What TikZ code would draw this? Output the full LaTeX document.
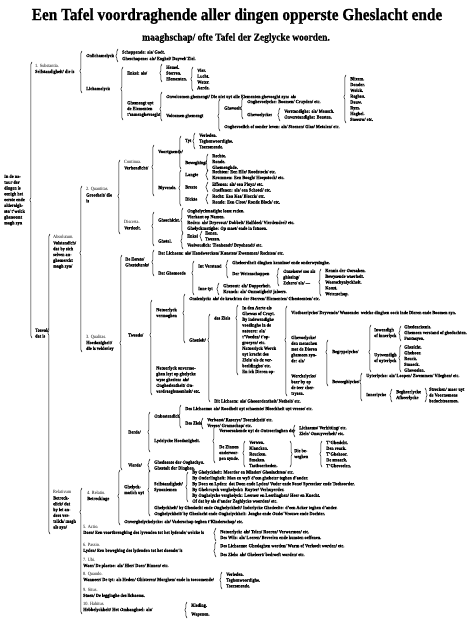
\documentclass[tikz,border=0pt]{standalone}
\usepackage{fontspec}
\setmainfont{Liberation Serif}[FakeStretch=0.9, BoldFeatures={FakeBold=0.8}]
\usetikzlibrary{decorations.pathreplacing}
\newcommand\bt{\fontsize{4.8}{5.8}\selectfont\bfseries}
\newcommand\lat{\mdseries}
\tikzset{
  txt/.style={anchor=west,inner sep=0pt,font=\bt,align=left},
  brc/.style={decorate,line width=0.5pt},
}
\newcommand\Nd[4]{\node[txt] (#1) at (#2,#3) {#4};}
% left-opening brace: x, top, bottom, tip
\newcommand\Brc[4]{\pgfmathsetmacro\asp{(#3-#4)/(#3-#2)}\draw[brc,decoration={brace,amplitude=2.2pt,aspect=\asp}] (#1,#3) -- (#1,#2);}
% right-opening brace: x, top, bottom
\newcommand\Brr[3]{\draw[brc,decoration={brace,amplitude=2.2pt}] (#1,#2) -- (#1,#3);}
\begin{document}
\begin{tikzpicture}[x=1pt,y=-1pt]
\fill[white] (0,0) rectangle (470,631);
\useasboundingbox (0,0) rectangle (470,631);

\node[font=\fontsize{17}{19}\selectfont\bfseries,inner sep=0pt] (t1) at (237,16) {Een Tafel voordraghende aller dingen opperste Gheslacht ende};
\node[font=\fontsize{10.5}{12}\selectfont\bfseries,inner sep=0pt] (t2) at (236,38) {maaghschap/ ofte Tafel der Zeglycke woorden.};

% ---------- root
\Nd{root}{4}{200}{In de na-\\tuur der\\dingen is\\eenigh het\\eerste ende\\alderalgh-\\ste/ t'welck\\ghenoemt\\magh zyn}
\Brc{32}{62}{338}{200}

% ---------- Substantia
\Nd{subst}{35}{69}{{\lat 1. Substantia.}\\Selfstandigheit/ die is}
\Brc{82}{51}{93}{71}
\Nd{onl}{86}{56}{Onlichamelyck}
\Brc{118}{49}{62}{56}
\Nd{schep}{122}{52.5}{Scheppende: als/ Godt.}
\Nd{ghesch}{122}{59}{Gheschapene: als/ Enghel/ Duyvel/ Ziel.}
\Nd{lic}{86}{89}{Lichamelyck}
\Brc{123}{67}{120}{89}
\Nd{enk}{127}{73}{Enkel: als/}
\Brc{162}{64}{82}{73}
\Nd{hse}{166}{73}{Hemel.\\Sterren.\\Elementen.}
\Brc{193}{67}{91}{79}
\Nd{vlwa}{197}{79}{Vier.\\Lucht.\\Water.\\Aerde.}
\Nd{ghm}{127}{109}{Ghemengt uyt\\de Elementen\\t'samenghevoeght}
\Brc{162}{92}{121}{109}
\Nd{onv}{166}{97}{Onvolcomen ghemengt/ Die niet uyt alle Elementen ghevoeght zyn: als}
\Brc{346}{75}{123}{97}
\Nd{blix}{350}{99}{Blixem.\\Donder.\\Wolck.\\Reghen.\\Dauw.\\Rym.\\Haghel.\\Sneeuw/ etc.}
\Nd{vol}{166}{116}{Volcomen ghemengt}
\Brc{220}{99}{131}{116}
\Nd{ghv}{224}{108}{Ghevoelt}
\Brc{243}{98}{119}{108}
\Nd{onghvl}{247}{102}{Onghevoelycke: Boomen/ Cruyden/ etc.}
\Nd{ghvl}{247}{115}{Ghevoelycke:}
\Brc{280}{108}{121}{115}
\Nd{verst}{284}{114.5}{Verstandighe: als/ Mensch.\\Onverstandighe: Beesten.}
\Nd{ongl}{224}{127}{Onghevoelich of sonder leven: als/ Steenen/ Glas/ Metalen/ etc.}

% ---------- Toeval
\Nd{toev}{35}{333}{Toeval/\\dat is}
\Brc{50}{234}{534}{333}
\Nd{abs}{53}{252}{{\lat Absolutum.}\\Volstandich/\\dat by sich\\selven an-\\ghemerckt\\magh zyn/}
\Brc{82}{186}{352}{253}

% Quantitas
\Nd{quan}{86}{195}{{\lat 2. Quantitas.}\\Grootheit/ die\\is}
\Brc{120}{160}{234}{196}
\Nd{cont}{124}{165}{{\lat Continua.}\\Verbondicht/}
\Brc{154}{145}{196}{167}
\Nd{voort}{158}{152}{Voortgaende/}
\Brc{181}{136}{169}{152}
\Nd{tyt}{185}{141}{Tyt}
\Brc{195}{133}{149}{141}
\Nd{tytl}{199}{141}{Verleden.\\Teghenwoordighe.\\Toecomende.}
\Nd{bew}{185}{163}{Beweghing/}
\Brc{208}{154}{171}{162}
\Nd{bewl}{212}{162}{Rechte.\\Ronde.\\Ghemenghde.}
\Nd{bly}{158}{188}{Blyvende.}
\Brc{181}{170}{206}{188}
\Nd{lan}{185}{175}{Langte}
\Brc{208}{170}{180}{175}
\Nd{lanl}{212}{175}{Rechten: Een Elle/ Roedstock/ etc.\\Krommen: Een Boogh/ Hoepstock/ etc.}
\Nd{bre}{185}{187}{Breete}
\Brc{208}{182}{192}{187}
\Nd{brel}{212}{187}{Effenen: als/ een Ployn/ etc.\\Oneffenen: als/ een Schotel/ etc.}
\Nd{dic}{185}{199}{Dickte}
\Brc{208}{194}{204}{199}
\Nd{dicl}{212}{199}{Recht: Een Kas/ Blocck/ etc.\\Ronde: Een Cloot/ Ronde Block/ etc.}
\Nd{disc}{124}{225}{{\lat Discreta.}\\Verdeelt.}
\Brc{154}{212}{246}{226}
\Nd{ghk}{158}{220}{Gheschickt.}
\Brc{183}{208}{233}{220}
\Nd{ghkl}{187}{220}{Onghelyckmatighe losse reden.\\Vierkant op Namen.\\Reden: als/ Dryevout/ Dobbelt/ Halfdeel/ Vierdendeel/ etc.\\Ghelyckmatighe: Op maet/ ende in fatsoen.}
\Nd{ghtl}{158}{241}{Ghetal.}
\Brc{183}{233}{249}{241}
\Nd{enk2}{187}{236}{Enkel}
\Brc{202}{231}{241}{236}
\Nd{enk2l}{205}{236}{Eenen.\\Tweeen.}
\Nd{veel}{187}{245.5}{Veelvoudich: Tienhondt/ Dryehondt/ etc.}

% Qualitas
\Nd{qual}{86}{343}{{\lat 3. Qualitas.}\\Hoedanigheit/\\die is velderley}
\Brc{122}{255}{470}{343}
\Nd{eer}{125}{262}{De Eerste/\\Ghesteltenis/}
\Brc{154}{250}{276}{262}
\Nd{dlich}{158}{253}{Dat Lichaem: als/ Handwercken/ Kunsten/ Zwemmen/ Rechten/ etc.}
\Nd{dghm}{158}{273}{Dat Ghemoede}
\Brc{194}{261}{295}{273}
\Nd{intv}{198}{266}{Int Verstand}
\Brc{228}{260}{278}{266}
\Nd{ghel}{232}{263}{Gheleerdheit dinghen kennisse/ ende onderwysinghe.}
\Nd{derw}{232}{274}{Der Wetenschappen}
\Brc{279}{268}{286}{276}
\Nd{onz}{283}{277}{Onzekere/ soo als\\ghissing/\\Zekere/ als/ ---}
\Brc{321}{269}{296}{282}
\Nd{onzl}{325}{282.5}{Kennis der Oorsaken.\\Bewysende waerheit.\\Waerschynlyckheit.\\Konst.\\Wetenschap.}
\Nd{inne}{198}{289}{Inne tyt}
\Brc{219}{283}{295}{289}
\Nd{innel}{223}{289}{Ghesont: als/ Dapperheit.\\Kranck: als/ Onmatigheit/ jaloers.}

\Nd{twee}{128}{335}{Tweede/}
\Brc{152}{300}{395}{335}
\Nd{natv}{156}{313}{Natuerlyck\\vermoghen}
\Brc{185}{294}{343}{313}
\Nd{onsi}{189}{299}{Onsienlyck: als/ de krachten der Sterren/ Elementen/ Ghesteenten/ etc.}
\Nd{ghez}{189}{340}{Ghezielt/}
\Brc{210}{314}{402}{340}
\Nd{desz}{214}{318}{des Ziels}
\Brc{238}{305}{375}{318}
\Nd{deszl}{242}{340}{In den Aerte als\\Ghewas of Cruyt.\\By indewendighe\\voedinghe in de\\natuere: als/\\t'Voeden/ t'op-\\groeyen/ etc.\\Natuerlyck Werck\\uyt kracht des\\Ziels/ als de ver-\\beeldinghe/ etc.\\En ick Dieren op-}
\Brc{287}{306}{396}{340}
\Nd{vlot}{291}{313}{Vlotbaerlycke/ Dryvende/ Wassende: welcke dinghen oock inde Dieren ende Boomen zyn.}
\Nd{ghvy}{291}{349}{Ghevoelycke/\\den menschen\\met de Dieren\\ghemeen zyn-\\de: als/}
\Brc{328}{340}{386}{352}
\Nd{begr}{332}{352}{Begrypelycke/}
\Brc{371}{325}{372}{352}
\Nd{inw}{374}{333}{Inwendigh\\of innerlyck}
\Brc{401}{326}{341}{333}
\Nd{inwl}{404}{333}{Ghedenckenis.\\Ghemeen verstand of ghedachten.\\Fantasyen.}
\Nd{uytw}{374}{358}{Uytwendigh\\of uyterlyck}
\Brc{401}{345}{372}{358}
\Nd{uytwl}{404}{358.5}{Ghesicht.\\Ghehoor.\\Reuck.\\Smaeck.\\Ghevoelen.}
\Nd{bewg}{332}{382}{Beweeghlycke/}
\Brc{362}{373}{401}{382}
\Nd{uyt}{366}{376}{Uyterlycke: als/ Loopen/ Zwemmen/ Vlieghen/ etc.}
\Nd{inn}{366}{395}{Innerlycke}
\Brc{392}{389}{402}{395}
\Nd{begh}{396}{395}{Begheerlycke\\Afkeerlycke}
\Brr{425}{388}{402}
\Nd{strk}{429}{395}{Strecken/ maer uyt\\de Voornemens\\bedochtsaemen.}
\Nd{werk}{291}{385}{Werckelycke/\\baer by op\\de teer cher-\\trysen.}
\Nd{ditl}{214}{401}{Dit Lichaem: als/ Gheoordentheit/ Netheit/ etc.}
\Nd{natonv}{156}{380}{Natuerlyck onvermo-\\ghen leyt op ghelycke\\wyse ghesien: als/\\Onghesientheit/ On-\\verdraeghsaemheit/ etc.}

\Nd{derd}{128}{432}{Derde/}
\Brc{150}{412}{452}{432}
\Nd{onbe}{154}{416}{Onbestendich}
\Brc{181}{405}{428}{416}
\Nd{dlich2}{185}{409}{Des Lichaems: als/ Roodheit uyt schaemte/ Bleeckheit uyt vreese/ etc.}
\Nd{dzie}{185}{423}{Des Ziels}
\Brc{203}{418}{429}{423}
\Nd{dziel}{207}{423}{Verbaest/ Raserye/ Toornicheit/ etc.\\Vreese/ Gramschap/ etc.}
\Nd{lyde}{154}{441}{Lydelycke Hoedanigheit.}
\Brc{215}{426}{463}{441}
\Nd{vero}{219}{431}{Veroorsakende uyt de Ontroeringhen der}
\Brc{295}{425}{437}{431}
\Nd{verol}{299}{431}{Lichaems/ Verhitting/ etc.\\Ziele/ Onsuyverheit/ etc.}
\Nd{zinn}{219}{453}{De Zinnen\\onderwor-\\pen zynde.}
\Brc{245}{441}{467}{453}
\Nd{zinnl}{249}{454}{Verwen.\\Klancken.\\Reucken.\\Smaken.\\Tastbaerheden.}
\Brr{290}{441}{467}
\Nd{dieb}{294}{454}{Die be-\\weghen}
\Brc{322}{441}{467}{454}
\Nd{diebl}{326}{454}{T'Ghesicht.\\Den reuck.\\T'Ghehoor.\\De smaeck.\\T'Ghevoelen.}
\Nd{vier}{128}{465}{Vierde/}
\Brc{150}{459}{472}{465}
\Nd{vierl}{154}{465.5}{Ghedaente der Ooghschyn.\\Ghestalt der Dinghen.}

% ---------- Relativum
\Nd{rel}{53}{510}{{\lat Relativum}\\Betreck-\\elick/ dat\\by iet an-\\ders ver-\\telick/ magh\\als zyn/}
\Brc{82}{488}{614}{512}
\Nd{rela}{87}{496}{{\lat 4. Relatio.}\\Betreckinge}
\Brc{120}{470}{525}{496}
\Nd{glm}{124}{490}{Ghelyck-\\matich uyt}
\Brc{150}{470}{516}{490}
\Nd{self}{154}{487}{Selfstandigheit/\\Synoniemen}
\Brc{188}{472}{502}{487}
\Nd{selfl}{192}{487}{\fontsize{4.8}{5.3}\selectfont By Ghelyckheit: Meerder en Minder/ Gheslachten/ etc.\\By Onderlingheit: Man en wyf/ d'een ghebeter teghen d'ander.\\By Doen en Lyden: dat Doen ende Lyden/ Vader ende Sone/ Spreecker ende Toehoorder.\\By Ghebruyck verghelyckt: Ruyter/ Verhuyerder.\\By Onghelycke verghelyck: Leeraer en Leerlinghen/ Heer en Knecht.\\Of dat by als d'ander Zeghlycke woorden/ etc.}
\Nd{gel1}{154}{508}{Ghelyckheit/ by Gheslacht ende Onghelyckheit/ Inderlycke Ghedeelte: d'een Acker teghen d'ander.}
\Nd{gel2}{154}{514}{Onghelyckheit/ by Gheslacht ende Onghelyckheit: Jonghe ende Oude/ Vrouwe ende Dochter.}
\Nd{onvg}{124}{522}{Onverghelyckelycke: als/ Vaderschap teghen t'Kinderschap/ etc.}

\Nd{act}{83}{530}{{\lat 5. Actio.}\\Doen/ Een voortbrenghing des lyvenden tot het lydende/ welcke is}
\Brc{216}{528}{541}{533}
\Nd{actl}{220}{534.5}{Natuerlyck: als/ Telen/ Roeren/ Verwarmen/ etc.\\Des Wils: als/ Leeren/ Beveelen ende kunsten oeffenen.}
\Nd{pas}{83}{548}{{\lat 6. Passio.}\\Lyden/ Een beweghing des lydenden tot het doende/ is}
\Brc{216}{542}{557}{551}
\Nd{pasl}{220}{550}{Des Lichaems: Gheslaghen worden/ Warm of Verkoelt worden/ etc.\\[3pt]Des Ziels: als/ Gheleert/ bedroeft worden/ etc.}
\Nd{ubi}{83}{563}{{\lat 7. Ubi.}\\Waer/ De plaetse: als/ Hier/ Daer/ Binnen/ etc.}
\Nd{quan2}{83}{577}{{\lat 8. Quando.}\\Wanneer/ De tyt: als Heden/ Ghisteren/ Morghen/ ende in toecomende/}
\Brc{222}{572}{589}{580}
\Nd{quanl}{226}{580}{Verleden.\\Teghenwoordighe.\\Toecomende.}
\Nd{sit}{83}{593}{{\lat 9. Situs.}\\Staen/ De legginghe des lichaems.}
\Nd{hab}{83}{607}{{\lat 10. Habitus.}\\Hebbelyckheit/ Het Omhanghsel: als/}
\Brc{187}{602}{618}{610}
\Nd{habl}{191}{610}{Kleding.\\[3pt]Wapenen.}
\end{tikzpicture}
\end{document}
